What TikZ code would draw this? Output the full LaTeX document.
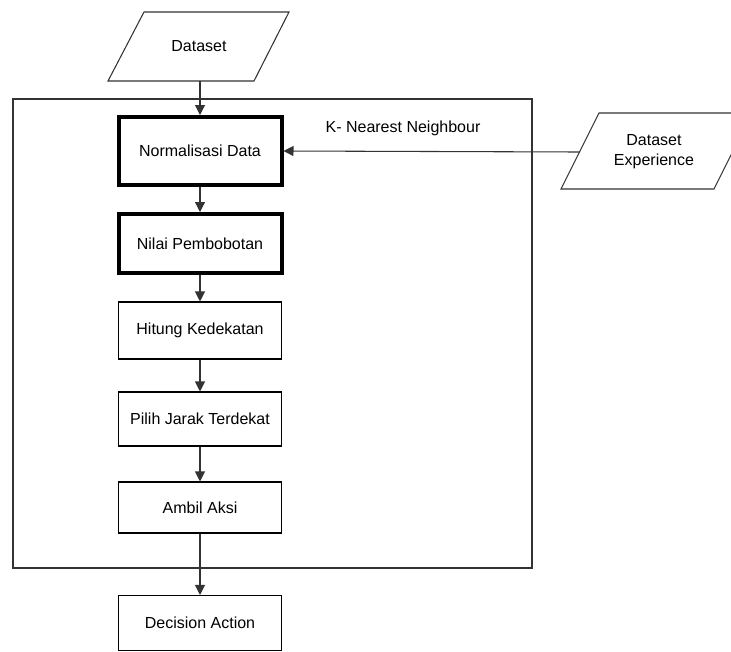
\documentclass[tikz,border=0pt]{standalone}
\usepackage{fontspec}
\setmainfont{Liberation Sans}
\usetikzlibrary{arrows.meta}
\begin{document}
\begin{tikzpicture}[x=0.75pt,y=-0.75pt,
  every node/.style={font=\fontsize{12}{15}\selectfont},
  proc/.style={draw=black, line width=0.8pt, minimum width=122.25pt, inner sep=0pt, fill=white},
  thickproc/.style={proc, line width=3pt},
  flow/.style={draw=black!80, line width=0.8pt, -{Triangle[width=7.5pt,length=7.5pt]}},
  thinline/.style={draw=black!80, line width=0.8pt}]
\useasboundingbox (0,0) rectangle (731,651);
\clip (0,0) rectangle (731,651);
% outer frame
\draw[thinline] (13,99) rectangle (532,568);
% Dataset parallelogram
\draw[thinline] (144,12) -- (289,12) -- (254,81) -- (108,81) -- cycle;
\node (ds) at (199,46) {Dataset};
\coordinate (dsb) at (200,81);
% Dataset Experience parallelogram
\draw[thinline] (599,113) -- (752,113) -- (714,189) -- (561,189) -- cycle;
\node[align=center] (dse) at (654,152) {Dataset\\Experience};
\coordinate (dsel) at (580,152);
% process boxes
\node[thickproc, minimum height=51pt] (norm) at (200,151) {Normalisasi Data};
\node[thickproc, minimum height=44.25pt] (nilai) at (200,243.5) {Nilai Pembobotan};
\node[proc, minimum height=42.75pt] (hit) at (200,330.5) {Hitung Kedekatan};
\node[proc, minimum height=40.5pt] (pil) at (200,419) {Pilih Jarak Terdekat};
\node[proc, minimum height=38.25pt] (amb) at (200,507.5) {Ambil Aksi};
\node[proc, minimum height=41.25pt] (dec) at (200,623) {Decision Action};
% label
\node (knn) at (403,128) {K- Nearest Neighbour};
% connectors
\draw[flow] (dsb) -- (norm.north);
\draw[flow] (dsel) -- (norm.east);
\draw[flow] (norm) -- (nilai);
\draw[flow] (nilai) -- (hit);
\draw[flow] (hit) -- (pil);
\draw[flow] (pil) -- (amb);
\draw[flow] (amb) -- (dec);
\end{tikzpicture}
\end{document}
